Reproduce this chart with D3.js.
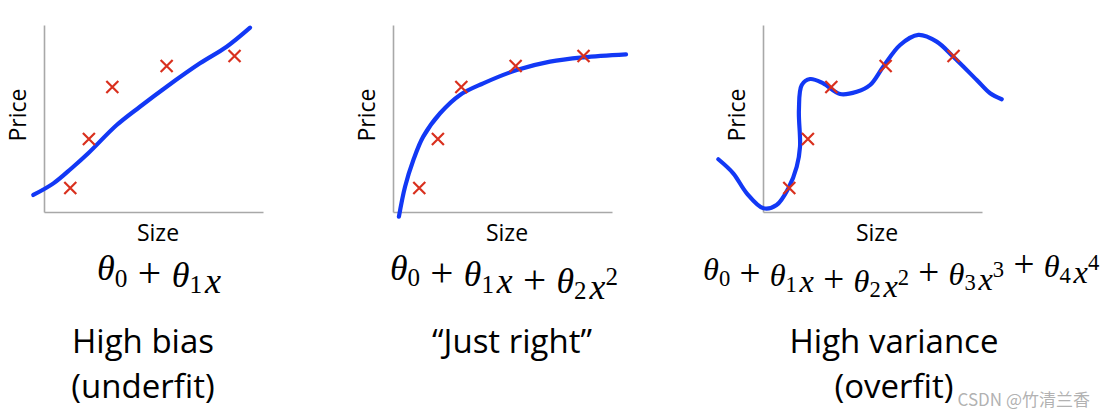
<!DOCTYPE html>
<html>
<head>
<meta charset="utf-8">
<script src="https://cdn.jsdelivr.net/npm/d3@7"></script>
<style>
    body { margin: 0; background: #fff; }
    svg { display: block; }
</style>
</head>
<body>
<svg id="chart" width="1107" height="418"></svg>
<script>
// training examples (same five points in every panel)
const sizes  = [1.2, 2.05, 3.12, 5.6, 8.7];
const prices = [1.28, 3.9, 6.68, 7.81, 8.34];

// hand-drawn fit curves
const linFitX = [-0.49, 0.43, 1.26, 2.02, 3.32, 4.38, 5.60, 7.12, 8.34, 9.41];
const linFitY = [0.91, 1.53, 2.34, 3.14, 4.65, 5.63, 6.70, 7.95, 8.84, 9.86];

const quadFitX = [0.27, 0.55, 0.93, 1.38, 2.15, 3.06, 4.12, 5.65, 7.17, 8.69, 10.64];
const quadFitY = [-0.25, 1.35, 2.78, 4.03, 5.28, 6.26, 6.88, 7.59, 8.04, 8.27, 8.43];

const quartFitX = [-2.04, -1.36, -0.74, 0.02, 0.62, 1.16, 1.54, 1.69, 1.64, 1.77, 2.15, 2.75, 3.52, 4.28, 4.89, 5.49, 6.26, 7.09, 7.93, 8.69, 9.76, 10.37, 10.9];
const quartFitY = [2.82, 2.07, 1.0, 0.2, 0.37, 1.27, 2.42, 3.49, 5.45, 6.79, 7.11, 6.88, 6.31, 6.43, 6.79, 7.77, 8.93, 9.47, 9.11, 8.3, 7.06, 6.35, 6.03];

const polyDegrees = [1, 2, 4];
const titles = [
    ["High bias", "(underfit)"],
    ["\u201cJust right\u201d"],
    ["High variance", "(overfit)"]
];
const xLabel = "Size";
const yLabel = "Price";

const svg = d3.select("#chart");
const W = 219, H = 187;
const blue = "#1238f5";
const red = "#d9301e";

const panels = [
    { left: 44,  fx: linFitX,   fy: linFitY,   formulaX: 97,  formulaW: 125, titleX: 143 },
    { left: 393, fx: quadFitX,  fy: quadFitY,  formulaX: 390, formulaW: 228, titleX: 512 },
    { left: 763, fx: quartFitX, fy: quartFitY, formulaX: 703, formulaW: 397, titleX: 894 }
];

const x = d3.scaleLinear().domain([0, 10]).range([0, W]);
const y = d3.scaleLinear().domain([0, 10]).range([H, 0]);

const line = d3.line()
    .curve(d3.curveCatmullRom.alpha(0.5))
    .x(d => x(d[0]))
    .y(d => y(d[1]));

panels.forEach((p, pi) => {
    const g = svg.append("g").attr("transform", `translate(${p.left},25)`);

    // axes, no ticks
    g.append("g").call(d3.axisLeft(y).ticks(0).tickSizeOuter(0));
    g.append("g").attr("transform", `translate(0,${H})`)
        .call(d3.axisBottom(x).ticks(0).tickSizeOuter(0));
    g.selectAll(".domain").attr("stroke", "#a8a8a8").attr("stroke-width", 1.6);

    // fit curve
    g.append("path")
        .datum(d3.zip(p.fx, p.fy))
        .attr("fill", "none")
        .attr("stroke", blue)
        .attr("stroke-width", 4.2)
        .attr("stroke-linecap", "round")
        .attr("stroke-linejoin", "round")
        .attr("d", line);

    // crosses
    const s = 6;
    g.selectAll(".pt")
        .data(d3.zip(sizes, prices))
        .join("path")
        .attr("class", "pt")
        .attr("transform", d => `translate(${x(d[0])},${y(d[1])})`)
        .attr("d", `M${-s},${-s}L${s},${s}M${s},${-s}L${-s},${s}`)
        .attr("stroke", red)
        .attr("stroke-width", 2.2)
        .attr("fill", "none");

    // axis labels
    g.append("text")
        .attr("transform", `translate(-18,${90}) rotate(-90)`)
        .attr("text-anchor", "middle")
        .style("font-family", "'Open Sans', sans-serif")
        .style("font-size", "23px")
        .text(yLabel);
    g.append("text")
        .attr("x", 114).attr("y", 216)
        .attr("text-anchor", "middle")
        .style("font-family", "'Open Sans', sans-serif")
        .style("font-size", "23px")
        .text(xLabel);

    // formula  theta_0 + theta_1 x + ...
    const fs = 30;
    const fg = svg.append("g");
    const t = fg.append("text")
        .style("font-family", "'Liberation Serif', serif")
        .style("font-size", fs + "px");
    for (let i = 0; i <= polyDegrees[pi]; i++) {
        if (i > 0) t.append("tspan").style("font-size", (1.15 * fs) + "px").text("\u2005+\u2005");
        t.append("tspan").style("font-style", "italic").text("\u03b8");
        t.append("tspan").attr("dy", 0.18 * fs).style("font-size", (0.7 * fs) + "px").text(i);
        t.append("tspan").attr("dy", -0.18 * fs).text("");
        if (i >= 1) t.append("tspan").style("font-style", "italic").text("\u200ax");
        if (i >= 2) {
            t.append("tspan").attr("dy", -0.4 * fs).style("font-size", (0.7 * fs) + "px").text(i);
            t.append("tspan").attr("dy", 0.4 * fs).text("");
        }
    }
    const bb = t.node().getBBox();
    const k = p.formulaW / bb.width;
    fg.attr("transform", `translate(${p.formulaX - bb.x * k},280) scale(${k})`);

    // titles below
    titles[pi].forEach((txt, li) => {
        svg.append("text")
            .attr("x", p.titleX)
            .attr("y", 353 + li * 45)
            .attr("text-anchor", "middle")
            .style("font-family", "'Open Sans', sans-serif")
            .style("font-size", "33px")
            .attr("fill", "#000")
            .text(txt);
    });
});

// watermark
svg.append("text")
    .attr("x", 1090).attr("y", 406)
    .attr("text-anchor", "end")
    .style("font-family", "'Noto Sans CJK SC', sans-serif")
    .style("font-size", "17px")
    .attr("fill", "#a8a8a8")
    .attr("fill-opacity", 0.9)
    .text("CSDN @\u7af9\u6e05\u5170\u9999");
</script>
</body>
</html>
